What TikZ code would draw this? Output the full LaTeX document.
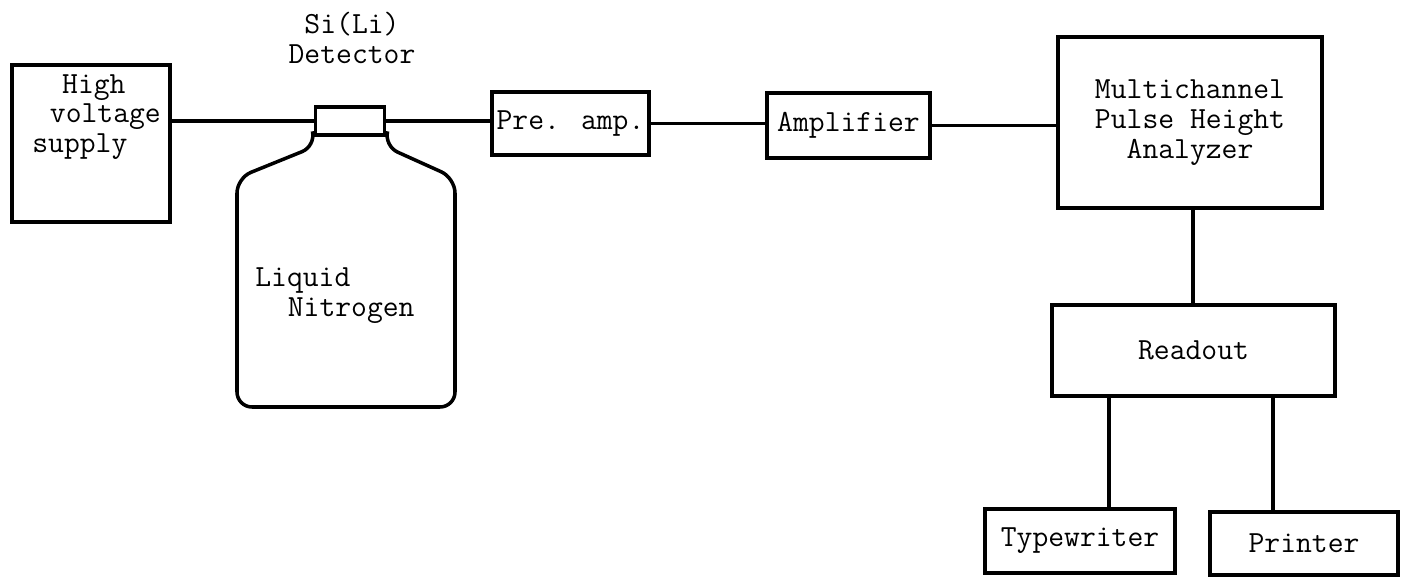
\documentclass[tikz,border=0pt]{standalone}
\usepackage{tikz}
\usetikzlibrary{positioning, calc}
\tikzstyle{unit} = [rectangle, draw=black, line width=2pt, text centered,
                    align=center, inner sep=0pt, font=\ttfamily\fontsize{17.5}{17}\selectfont]
\tikzstyle{label} = [inner sep=0pt, align=left, font=\ttfamily\fontsize{17.5}{17}\selectfont]
\tikzstyle{wire} = [line width=2pt]

\begin{document}
\begin{tikzpicture}[x=0.2mm, y=-0.2mm]
    \useasboundingbox (0,0) rectangle (1402,581);

    \node[unit, minimum width=3.16cm, minimum height=3.14cm] (hv) at (91,143.5) {};
    \node[label, anchor=west] (hvtext) at (32,117)
        {\hspace*{17pt}High\\\hspace*{10pt}voltage\\supply};

    \node[unit, minimum width=1.38cm, minimum height=0.56cm] (cap) at (350,121) {};
    \node[label, align=center] (dettext) at (352,38) {Si(Li)\\Detector};

    \draw[wire, rounded corners=0.3cm] (cap.south west) -- (316,146) -- (237,178)
        -- (237,407) -- (455,407) -- (455,178) -- (384,146) -- (cap.south east);
    \node[label, anchor=west] (ln2) at (255,296) {Liquid\\\hspace*{18.5pt}Nitrogen};

    \node[unit, minimum width=3.14cm, minimum height=1.26cm] (preamp) at (570.5,123.5) {Pre. amp.};
    \node[unit, minimum width=3.26cm, minimum height=1.30cm] (amp) at (848.5,125.5) {Amplifier};
    \node[unit, minimum width=5.28cm, minimum height=3.42cm] (mca) at (1190,122.5)
        {Multichannel\\Pulse Height\\Analyzer};
    \node[unit, minimum width=5.66cm, minimum height=1.82cm] (readout) at (1193.5,350.5) {Readout};
    \node[unit, minimum width=3.80cm, minimum height=1.28cm] (typer) at (1080,541) {Typewriter};
    \node[unit, minimum width=3.76cm, minimum height=1.26cm] (printer) at (1304,543.5) {Printer};

    \draw[wire] (hv.east |- cap.west) -- (cap.west);
    \draw[wire] (cap.east) -- (cap.east -| preamp.west);
    \draw[wire] (preamp.east) -- (preamp.east -| amp.west);
    \draw[wire] (amp.east) -- (amp.east -| mca.west);
    \draw[wire] ([xshift=0.06cm]mca.south) -- ([xshift=0.06cm]mca.south |- readout.north);
    \draw[wire] ([xshift=0.58cm]typer.north) -- ([xshift=0.58cm]typer.north |- readout.south);
    \draw[wire] ([xshift=-0.62cm]printer.north) -- ([xshift=-0.62cm]printer.north |- readout.south);
\end{tikzpicture}
\end{document}
